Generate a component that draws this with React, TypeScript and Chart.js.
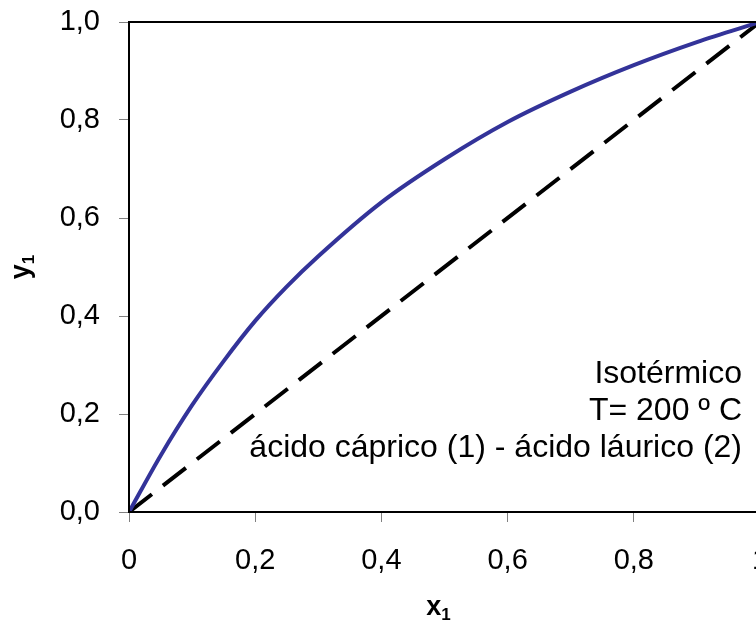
import React, { useEffect, useRef } from 'react';
import { Chart, registerables } from 'chart.js';

Chart.register(...registerables);

// Equilibrium curve
const x1Values = [0, 0.05, 0.1, 0.15, 0.2, 0.25, 0.3, 0.4, 0.5, 0.6, 0.7, 0.8, 0.9, 1.0];
const y1Values = [0, 0.115, 0.218, 0.308, 0.39, 0.46, 0.522, 0.632, 0.72, 0.796, 0.858, 0.912, 0.959, 1.0];
// Diagonal y = x reference line
const diagonalX = [0, 1];
const diagonalY = [0, 1];
// Tick values
const xTickValues = [0, 0.2, 0.4, 0.6, 0.8, 1];
const yTickValues = [0, 0.2, 0.4, 0.6, 0.8, 1];
// Texts
const xTitleMain = 'x';
const yTitleMain = 'y';
const titleSub = '1';
const annotationLines = ['Isotérmico', 'T= 200 º C', 'ácido cáprico (1) - ácido láurico (2)'];

const FONT = '"Liberation Sans", Arial, sans-serif';

const fmtY = (v: number) => v.toFixed(1).replace('.', ',');
const fmtX = (v: number) => (v === 0 ? '0' : v === 1 ? '1' : v.toFixed(1).replace('.', ','));

const decorPlugin = {
  id: 'decor',
  afterDraw(chart: any) {
    const { ctx, chartArea } = chart;
    const { left, right, top, bottom } = chartArea;
    ctx.save();
    // frame
    ctx.strokeStyle = '#000';
    ctx.lineWidth = 2;
    ctx.strokeRect(left, top, right - left, bottom - top);

    // annotation
    ctx.fillStyle = '#000';
    ctx.font = `32px ${FONT}`;
    ctx.textAlign = 'right';
    ctx.textBaseline = 'middle';
    const ax = right - 18;
    annotationLines.forEach((t, i) => {
      ctx.fillText(t, ax, 374 + i * 37);
    });

    // x title
    const cx = (left + right) / 2 - 6;
    ctx.textBaseline = 'alphabetic';
    ctx.textAlign = 'left';
    ctx.font = `bold 27px ${FONT}`;
    const wx = ctx.measureText(xTitleMain).width;
    ctx.font = `bold 17px ${FONT}`;
    const ws = ctx.measureText(titleSub).width;
    const startX = cx - (wx + ws) / 2;
    ctx.font = `bold 27px ${FONT}`;
    ctx.fillText(xTitleMain, startX, 615);
    ctx.font = `bold 17px ${FONT}`;
    ctx.fillText(titleSub, startX + wx, 620);

    // y title (rotated)
    const cy = (top + bottom) / 2;
    ctx.translate(29, cy);
    ctx.rotate(-Math.PI / 2);
    ctx.font = `bold 27px ${FONT}`;
    const wy = ctx.measureText(yTitleMain).width;
    const sy = -(wy + ws) / 2;
    ctx.fillText(yTitleMain, sy, 0);
    ctx.font = `bold 17px ${FONT}`;
    ctx.fillText(titleSub, sy + wy, 5);
    ctx.restore();
  },
};

export default function App() {
  const canvasRef = useRef<HTMLCanvasElement | null>(null);

  useEffect(() => {
    document.body.style.overflow = 'hidden';
    const canvas = canvasRef.current;
    if (!canvas) return;
    const chart = new Chart(canvas, {
      type: 'line',
      data: {
        datasets: [
          {
            label: 'equilibrio',
            data: x1Values.map((x, i) => ({ x, y: y1Values[i] })),
            borderColor: '#333399',
            borderWidth: 4,
            pointRadius: 0,
            cubicInterpolationMode: 'monotone',
            fill: false,
          },
          {
            label: 'diagonal',
            data: diagonalX.map((x, i) => ({ x, y: diagonalY[i] })),
            borderColor: '#000000',
            borderWidth: 4,
            borderDash: [29, 14],
            pointRadius: 0,
            fill: false,
          },
        ],
      },
      options: {
        animation: false,
        responsive: false,
        maintainAspectRatio: false,
        layout: { padding: { top: 22, right: 30, left: 0, bottom: 0 } },
        plugins: {
          legend: { display: false },
          tooltip: { enabled: false },
        },
        scales: {
          x: {
            type: 'linear',
            min: 0,
            max: 1,
            afterBuildTicks: (s: any) => {
              s.ticks = xTickValues.map((v) => ({ value: v }));
            },
            afterFit: (s: any) => {
              s.height = 109;
              s.paddingLeft = 0;
              s.paddingRight = 0;
            },
            ticks: {
              callback: (v: any) => fmtX(Number(v)),
              font: { family: FONT, size: 29 },
              color: '#000',
              padding: 22,
              maxRotation: 0,
            },
            grid: {
              drawOnChartArea: false,
              drawTicks: true,
              tickLength: 10,
              color: '#808080',
              lineWidth: 1,
            },
            border: { display: true, color: '#000', width: 2 },
          },
          y: {
            type: 'linear',
            min: 0,
            max: 1,
            afterBuildTicks: (s: any) => {
              s.ticks = yTickValues.map((v) => ({ value: v }));
            },
            afterFit: (s: any) => {
              s.width = 129;
              s.paddingTop = 0;
              s.paddingBottom = 0;
            },
            ticks: {
              callback: (v: any) => fmtY(Number(v)),
              font: { family: FONT, size: 29 },
              color: '#000',
              padding: 19,
            },
            grid: {
              drawOnChartArea: false,
              drawTicks: true,
              tickLength: 10,
              color: '#808080',
              lineWidth: 1,
            },
            border: { display: true, color: '#000', width: 2 },
          },
        },
      },
      plugins: [decorPlugin],
    } as any);
    return () => chart.destroy();
  }, []);

  return (
    <div
      style={{
        position: 'fixed',
        left: 0,
        top: 0,
        width: 756,
        height: 621,
        overflow: 'hidden',
        background: '#fff',
      }}
    >
      <canvas ref={canvasRef} width={790} height={621} style={{ width: 790, height: 621, display: 'block' }} />
    </div>
  );
}
